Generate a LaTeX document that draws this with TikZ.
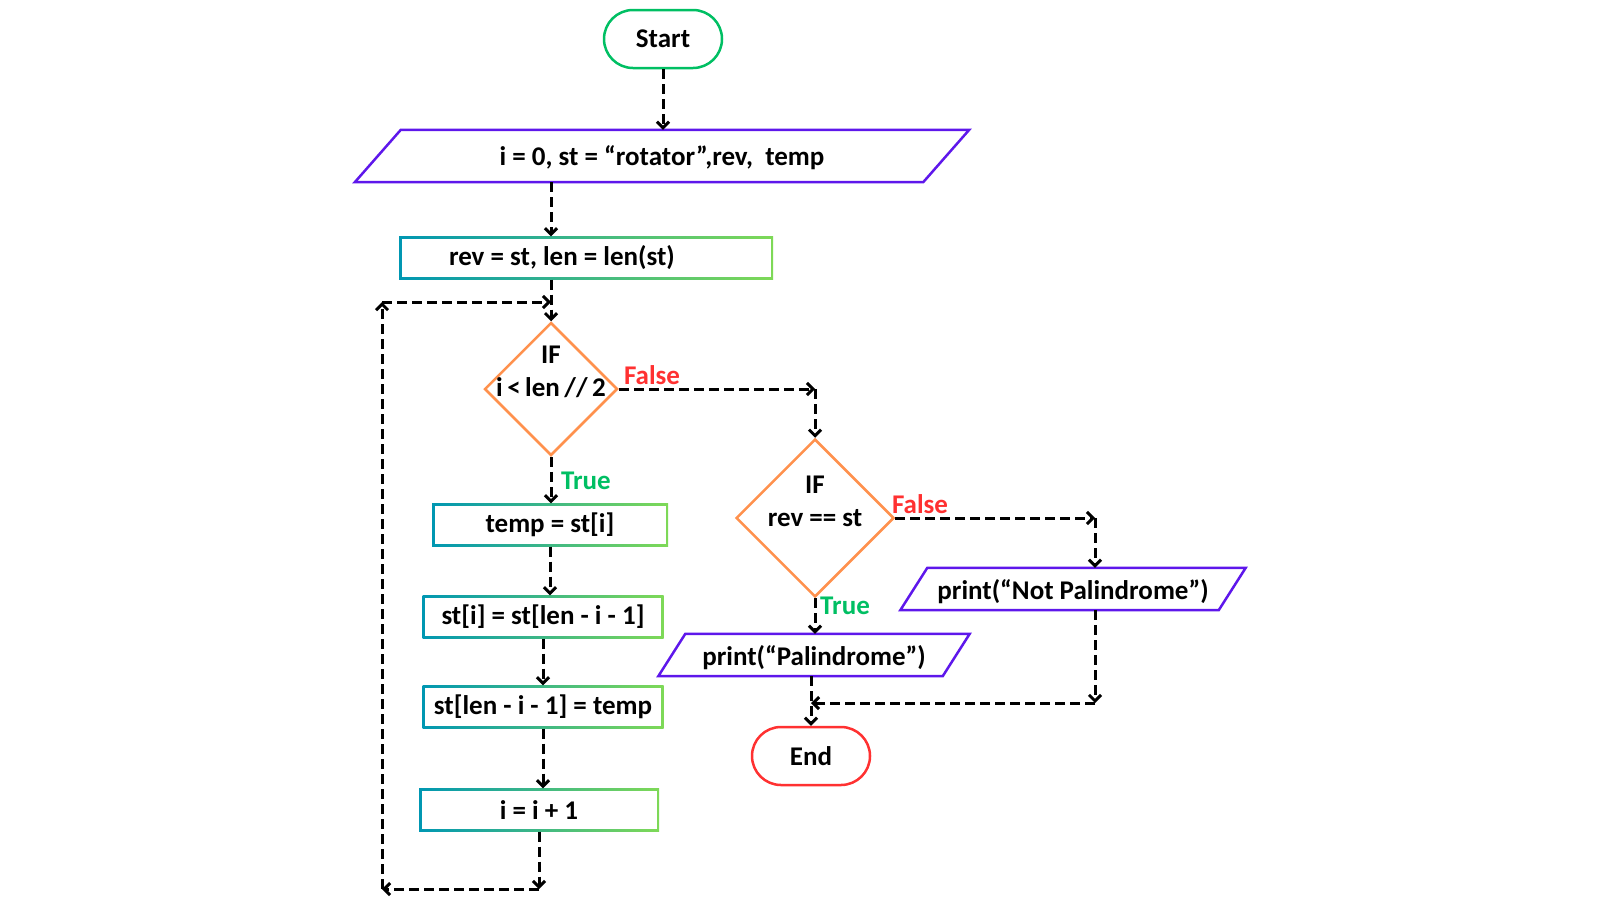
\documentclass[tikz,border=0pt]{standalone}
\usepackage{fontspec}
\setmainfont{Carlito}
\usetikzlibrary{shapes.geometric,arrows.meta,calc}
\definecolor{cgreen}{HTML}{00BF63}
\definecolor{cpurple}{HTML}{5E17EB}
\definecolor{corange}{HTML}{FF914D}
\definecolor{cred}{HTML}{FF3131}
\definecolor{cteal}{HTML}{0097B2}
\definecolor{clime}{HTML}{7ED957}
% slanted input/output box round a named node
\newcommand{\ioshape}[2]{%
  \draw[iodraw] ([xshift=#2]#1.north west) -- (#1.north east)
    -- ([xshift=-#2]#1.south east) -- (#1.south west) -- cycle;}
\tikzset{
  terminal/.style={
    draw=#1,
    line width=2.5pt,
    rounded corners=29pt,
    minimum width=118pt,
    minimum height=58pt,
    inner sep=0pt
  },
  process/.style={
    left color=cteal,
    right color=clime,
    minimum height=43pt,
    inner sep=0pt,
    path picture={\fill[white]
      ([shift={(2.5pt,-2.5pt)}]path picture bounding box.north west) rectangle
      ([shift={(-2.5pt,2.5pt)}]path picture bounding box.south east);}
  },
  iobox/.style={
    inner sep=0pt,
    text depth=0pt
  },
  iodraw/.style={
    draw=cpurple,
    line width=2.5pt,
    line join=miter
  },
  decision/.style={
    shape=diamond,
    draw=corange,
    line width=2.5pt,
    inner sep=0pt
  },
  iftext/.style={
    align=center,
    inner sep=0pt
  },
  flow/.style={
    draw=black,
    line width=3pt,
    dash pattern=on 10pt off 5pt,
    -{Straight Barb[length=6pt,width=12pt]}
  },
  truelbl/.style={text=cgreen, inner sep=0pt},
  falselbl/.style={text=cred, inner sep=0pt}
}

\begin{document}
\begin{tikzpicture}[x=1pt, y=-1pt, font=\fontsize{27}{33}\selectfont\bfseries]
  \useasboundingbox (0,0) rectangle (1600,900);
  \node[terminal=cgreen] (start) at (663,39) {Start};
  \node[iobox, minimum width=614pt, minimum height=52pt] (in) at (662,156) {i = 0, st = “rotator”,rev,~~temp};
  \ioshape{in}{46pt}
  \node[process, inner xsep=50pt] (rev) at (586,258) {\makebox[274pt][l]{rev = st, len = len(st)}};

  % loop test
  \node[decision, minimum width=133pt, minimum height=133pt] (d1) at (551,389) {};
  \node[iftext] (d1t) at ([yshift=17pt]d1.center) {IF\\i\,<\,len\,//\,2};
  \node[process, minimum width=236pt] (temp) at (550,525) {temp = st[i]};
  \node[process, minimum width=241pt] (swap) at (543,617) {st[i] = st[len - i - 1]};
  \node[process, minimum width=241pt] (set) at (543,707) {st[len - i - 1] = temp};
  \node[process, minimum width=240pt] (inc) at (539,810) {i = i + 1};

  % palindrome test
  \node[decision, minimum width=158pt, minimum height=158pt] (d2) at (815,518) {};
  \node[iftext] (d2t) at ([yshift=17pt]d2.center) {IF\\rev == st};
  \node[iobox, minimum width=345pt, minimum height=42pt] (np) at (1073,589) {print(“Not Palindrome”)};
  \ioshape{np}{27pt}
  \node[iobox, minimum width=311pt, minimum height=42pt] (pal) at (814,655) {print(“Palindrome”)};
  \ioshape{pal}{27pt}
  \node[terminal=cred] (end) at (811,756) {End};

  \node[falselbl] (f1) at (652,375) {False};
  \node[truelbl] (t1) at (586,481) {True};
  \node[falselbl] (f2) at (920,504) {False};
  \node[truelbl] (t2) at (845,606) {True};

  \coordinate (c1) at (d2.north |- d1.east);
  \coordinate (c2) at (1095,518);
  \coordinate (join) at (811,703);
  \coordinate (looptop) at (382,302);
  \coordinate (loopbot) at (382,889);

  \draw[flow] (start.south) -- (start.south |- in.north);
  \draw[flow] (in.south -| d1.north) -- (rev.north -| d1.north);
  \draw[flow] (rev.south -| d1.north) -- (d1.north);
  \draw[flow] (d1.east) -- (c1);
  \draw[flow] (c1) -- (d2.north);
  \draw[flow] (d1.south) -- (d1.south |- temp.north);
  \draw[flow] (temp.south) -- (temp.south |- swap.north);
  \draw[flow] (swap.south) -- (swap.south |- set.north);
  \draw[flow] (set.south) -- (set.south |- inc.north);
  \draw[flow] (inc.south) -- (inc.south |- loopbot);
  \draw[flow] (inc.south |- loopbot) -- (loopbot);
  \draw[flow] (loopbot) -- (looptop);
  \draw[flow] (looptop) -- (looptop -| d1.north);
  \draw[flow] (d2.east) -- (c2);
  \draw[flow] (c2) -- (c2 |- np.north);
  \draw[flow] (d2.south) -- (d2.south |- pal.north);
  \draw[flow] (pal.south -| end.north) -- (end.north);
  \draw[flow] (c2 |- np.south) -- (c2 |- join);
  \draw[flow] (c2 |- join) -- (join);
\end{tikzpicture}
\end{document}
